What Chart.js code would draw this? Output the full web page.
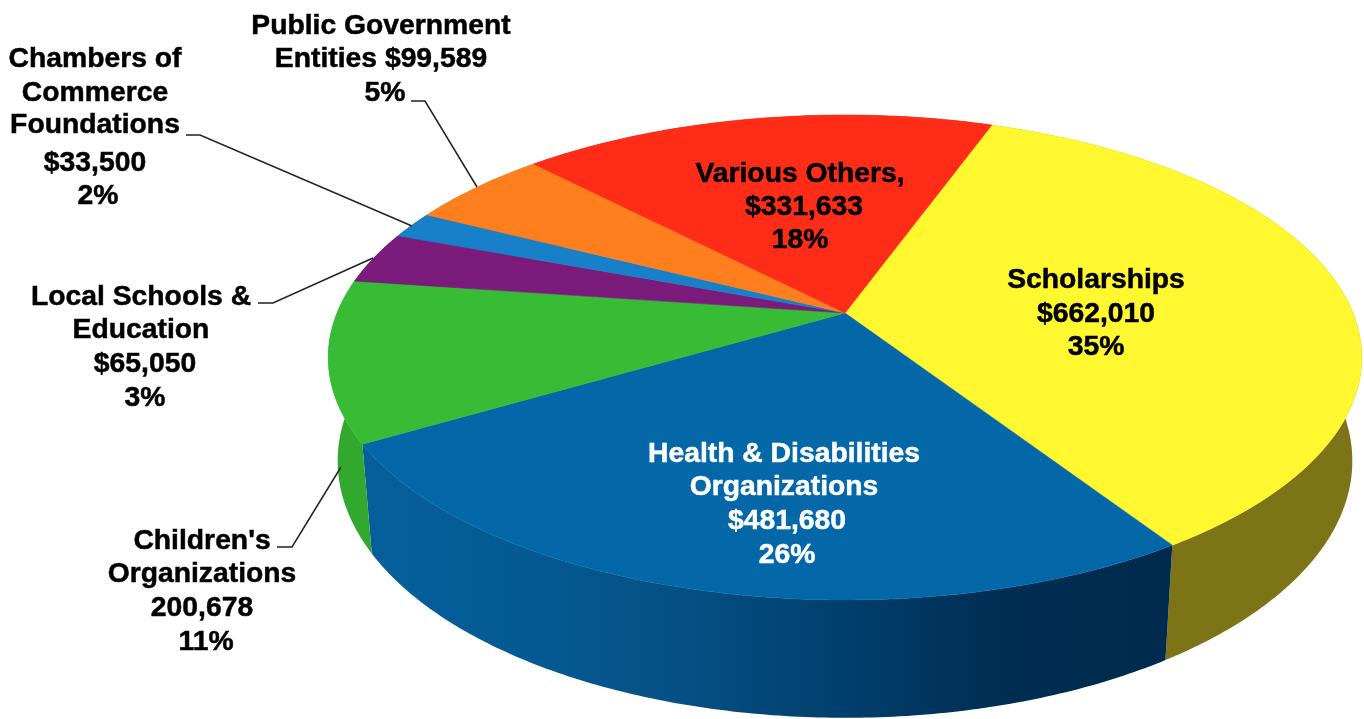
<!DOCTYPE html>
<html>
<head>
<meta charset="utf-8">
<title>Contributions by category</title>
<script src="https://cdn.jsdelivr.net/npm/chart.js@4"></script>
<style>
  html, body { margin: 0; padding: 0; background: #fff; overflow: hidden; }
  canvas { display: block; filter: blur(0.5px); }
</style>
</head>
<body>
<canvas id="pie" width="1364" height="719"></canvas>
<script>
// Data, clockwise starting from the yellow slice
const categories = ['Scholarships', 'Health & Disabilities Organizations', "Children's Organizations",
  'Local Schools & Education', 'Chambers of Commerce Foundations', 'Public Government Entities', 'Various Others'];
const amounts = [662010, 481680, 200678, 65050, 33500, 99589, 331633];
const labelText = [
  ['Scholarships', '$662,010', '35%'],
  ['Health & Disabilities', 'Organizations', '$481,680', '26%'],
  ["Children's", 'Organizations', '200,678', '11%'],
  ['Local Schools &', 'Education', '$65,050', '3%'],
  ['Chambers of', 'Commerce', 'Foundations', '$33,500', '2%'],
  ['Public Government', 'Entities $99,589', '5%'],
  ['Various Others,', '$331,633', '18%']
];

// Styles
const topColors = ['#FFF72F', '#0468A8', '#38BC36', '#7B1C7C', '#1880C8', '#FF7F1F', '#FF2C18'];
const wallColors = [
  ['#7C7416'],
  ['#065F9C', '#055A94', '#045084', '#013E6C', '#002D52', '#002B4E'],
  ['#33A82F'], ['#5A145A'], ['#105C90'], ['#B85A14'], ['#B81F10']
];
const textColors = ['#000', '#fff', '#000', '#000', '#000', '#000', '#000'];

// Label layout: centre x and middle y of every line
const labelPos = [
  [[1096, 280], [1096, 314], [1096, 347]],
  [[784, 454], [784, 487], [787, 521], [787, 555]],
  [[202, 541], [202, 574], [202, 608], [206, 642]],
  [[141, 297], [141, 330], [145, 364], [145, 398]],
  [[95, 59], [95, 93], [95, 125], [95, 163], [98, 196]],
  [[381, 26], [381, 59], [385, 93]],
  [[800, 174], [804, 207], [800, 240]]
];
const leaders = [
  [[411, 101], [425, 101], [477, 187]],
  [[186, 135], [200, 135], [412, 226]],
  [[258, 303], [273, 303], [373, 258]],
  [[277, 547], [292, 547], [341, 467]]
];

// Perspective projection of the disc; z = 0 top face, z = 1 bottom face
const view = { cx: 845, cy: 313, a: 508, b: 234.3, m: 0.1835, n: 0.018, c: 103.5 };
function project(angle, z) {
  const X = Math.cos(angle), Y = Math.sin(angle);
  const w = 1 - view.m * Y + view.n * z;
  return [view.cx + view.a * X / w, view.cy + (view.b * Y + view.c * z) / w];
}
function rim(start, end, z) {
  const steps = Math.max(2, Math.ceil((end - start) * 90));
  const pts = [];
  for (let i = 0; i <= steps; i++) pts.push(project(start + (end - start) * i / steps, z));
  return pts;
}

const pie3d = {
  id: 'pie3d',
  beforeDatasetsDraw(chart) {
    const ctx = chart.ctx;
    const arcs = chart.getDatasetMeta(0).data;
    ctx.save();
    // side walls first, the top face covers whatever is behind it
    arcs.forEach((arc, i) => {
      const upper = rim(arc.startAngle, arc.endAngle, 0);
      const lower = rim(arc.startAngle, arc.endAngle, 1).reverse();
      const stops = wallColors[i];
      let fill = stops[0];
      if (stops.length > 1) {
        const xs = upper.map(p => p[0]);
        fill = ctx.createLinearGradient(Math.min(...xs), 0, Math.max(...xs), 0);
        stops.forEach((col, k) => fill.addColorStop(k / (stops.length - 1), col));
      }
      ctx.beginPath();
      upper.concat(lower).forEach((p, k) => k ? ctx.lineTo(p[0], p[1]) : ctx.moveTo(p[0], p[1]));
      ctx.closePath();
      ctx.fillStyle = fill;
      ctx.fill();
    });
    arcs.forEach((arc, i) => {
      ctx.beginPath();
      ctx.moveTo(view.cx, view.cy);
      rim(arc.startAngle, arc.endAngle, 0).forEach(p => ctx.lineTo(p[0], p[1]));
      ctx.closePath();
      ctx.fillStyle = ctx.strokeStyle = topColors[i];
      ctx.lineWidth = 0.6;
      ctx.fill();
      ctx.stroke();
    });
    ctx.restore();
    return false;
  },
  afterDraw(chart) {
    const ctx = chart.ctx;
    ctx.save();
    ctx.strokeStyle = '#222';
    ctx.lineWidth = 1.5;
    leaders.forEach(line => {
      ctx.beginPath();
      line.forEach((p, k) => k ? ctx.lineTo(p[0], p[1]) : ctx.moveTo(p[0], p[1]));
      ctx.stroke();
    });
    ctx.font = 'bold 28.3px "Liberation Sans", Arial, sans-serif';
    ctx.textAlign = 'center';
    ctx.textBaseline = 'middle';
    ctx.lineWidth = 0.5;
    labelText.forEach((lines, i) => {
      ctx.fillStyle = ctx.strokeStyle = textColors[i];
      lines.forEach((txt, k) => {
        ctx.fillText(txt, labelPos[i][k][0], labelPos[i][k][1]);
        ctx.strokeText(txt, labelPos[i][k][0], labelPos[i][k][1]);
      });
    });
    ctx.restore();
  }
};

new Chart(document.getElementById('pie'), {
  type: 'pie',
  data: {
    labels: categories,
    datasets: [{ data: amounts, backgroundColor: topColors, borderWidth: 0 }]
  },
  options: {
    responsive: false,
    animation: false,
    devicePixelRatio: 1,
    rotation: 19.8,
    plugins: { legend: { display: false }, tooltip: { enabled: false } }
  },
  plugins: [pie3d]
});
</script>
</body>
</html>
